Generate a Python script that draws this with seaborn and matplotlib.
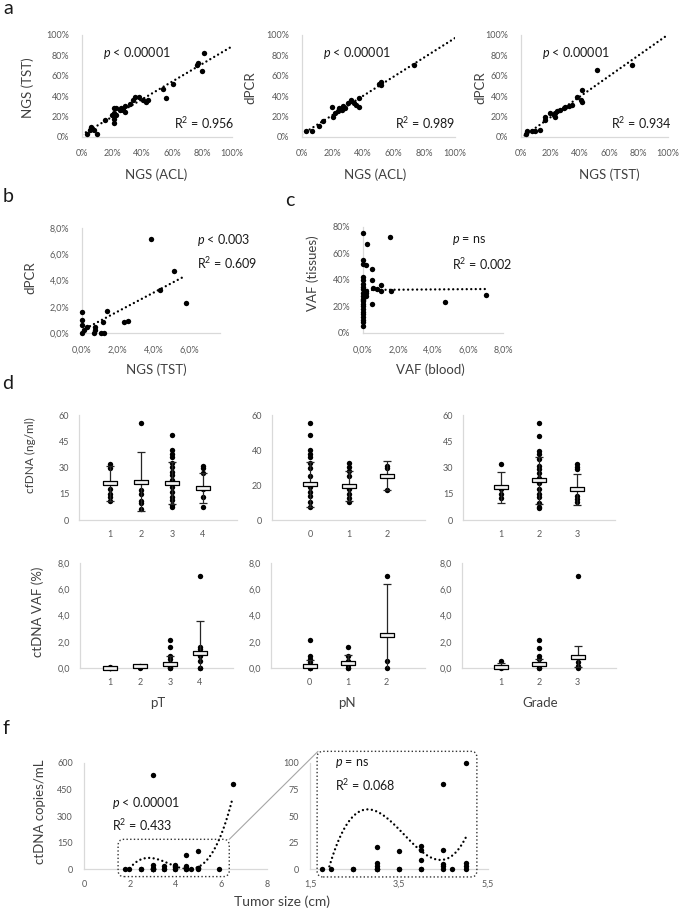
"""
Figure: NGS / dPCR concordance, ctDNA vs clinico-pathological features, tumour size
"""

import numpy as np
import pandas as pd
import matplotlib
matplotlib.use("Agg")
import matplotlib.pyplot as plt
import seaborn as sns
from matplotlib.patches import FancyBboxPatch, ConnectionPatch
from matplotlib.ticker import FuncFormatter

# ---------- data ----------
# a) tissue VAF (%), three method pairs
a1_acl = [81.4, 77.3, 76.8, 80.0, 60.7, 53.9, 55.7, 35.2, 38.0, 34.0, 40.9, 42.5, 44.3, 31.8, 28.9, 22.7,
          26.0, 21.1, 25.0, 27.3, 28.9, 21.6, 20.0, 22.7, 21.6, 15.2, 21.6, 6.1, 5.2, 8.0, 3.0, 10.2]
a1_tst = [82.0, 72.8, 70.5, 65.0, 51.5, 46.6, 38.4, 39.3, 39.3, 36.0, 36.0, 34.4, 36.0, 32.0, 30.0, 28.9,
          28.9, 28.5, 26.0, 26.0, 24.6, 23.6, 21.3, 21.3, 18.0, 16.4, 13.8, 9.8, 7.2, 6.6, 2.6, 2.6]
a2_acl = [72.9, 51.6, 50.5, 51.6, 37.5, 34.3, 32.0, 30.0, 26.7, 24.5, 19.5, 23.4, 21.3, 20.2, 26.0, 28.2,
          35.4, 37.0, 13.7, 10.8, 2.8, 6.5]
a2_dpcr = [70.9, 54.0, 51.8, 50.8, 38.5, 33.7, 36.0, 33.0, 30.4, 28.2, 29.1, 25.0, 23.3, 20.0, 26.5, 28.2,
           31.4, 29.8, 15.2, 11.0, 5.5, 5.5]
a3_tst = [51.8, 75.2, 41.6, 41.0, 41.6, 38.2, 34.8, 32.5, 30.2, 29.0, 26.8, 24.5, 23.4, 22.3, 23.0, 16.6,
          16.6, 13.2, 9.8, 7.5, 4.1, 3.4, 20.0]
a3_dpcr = [65.4, 70.2, 46.0, 36.0, 34.0, 38.8, 31.4, 30.4, 29.0, 28.0, 26.5, 25.0, 23.3, 21.7, 20.0, 20.0,
           16.2, 7.0, 6.0, 5.5, 5.5, 2.6, 23.3]

# b) plasma VAF (%)
b_tst = [3.87, 5.11, 4.37, 5.78, 0, 1.41, 2.57, 2.35, 1.15, 0, 0, 0.3, 0.7, 0.67, 1.05, 1.2, 0, 0.1, 0.7]
b_dpcr = [7.15, 4.73, 3.28, 2.26, 1.63, 1.70, 0.94, 0.87, 0.87, 1.0, 0.6, 0.45, 0.45, 0, 0, 0, 0, 0.2, 0.25]

# c) blood vs tissue VAF (%)
c_blood = [0, 0.2, 1.54, 0, 0, 0.15, 0.5, 0, 0, 0, 0.5, 0.55, 1.0, 0.8, 1.0, 1.6, 0.17, 0.17, 0.17,
           0, 0, 0, 0, 0, 0, 0, 0, 0, 0, 0, 0.5, 4.69, 7.0, 0, 0, 0, 0, 0]
c_tissue = [75.7, 67, 72.5, 55, 52, 51, 48, 42, 40, 37, 40, 34, 36, 33, 31.5, 32, 32, 30, 28,
            35, 33, 30, 28, 26, 24, 22, 18, 12, 8, 5, 21.6, 23.4, 28.4, 10, 14, 16, 20, 25]

# d) cfDNA (ng/ml) and ctDNA VAF (%) by pT, pN, grade
pT_cats = ["1", "2", "3", "4"]
pN_cats = ["0", "1", "2"]
gr_cats = ["1", "2", "3"]

cf_pT = [[32, 30, 17.5, 15, 13, 11],
         [55.5, 17, 15, 11, 10, 6.5],
         [48.5, 40, 38, 36, 32.5, 30.5, 27.5, 25.5, 23, 19, 16, 13, 11.5, 8.5, 7.5],
         [31, 29.5, 27, 18, 13, 7.5]]
cf_pT_mean = [20.9, 21.9, 21.0, 18.3]
cf_pT_sd = [10.0, 16.8, 12.0, 8.7]

cf_pN = [[55.5, 48.5, 40, 38, 36, 32.5, 29.5, 25, 19, 16, 13.5, 10.5, 7.5],
         [32.5, 30.5, 28, 25, 18, 15, 12.5, 10.5],
         [31, 29.5, 17]]
cf_pN_mean = [20.4, 19.5, 25.4]
cf_pN_sd = [13.0, 8.5, 8.3]

cf_gr = [[32, 18, 14.7, 12.3],
         [55.3, 48, 39.6, 37.7, 35, 31, 29, 27, 24, 21, 18, 15, 13, 10, 7.5, 6.6],
         [32, 30.5, 29.2, 14, 12, 10.4]]
cf_gr_mean = [18.7, 22.8, 17.6]
cf_gr_sd = [8.7, 13.4, 8.8]

ct_pT = [[0, 0, 0, 0.05],
         [0.18, 0, 0.1],
         [2.15, 1.6, 0.93, 0.7, 0.4, 0.1, 0, 0],
         [7.0, 1.6, 1.45, 0.9, 0.5, 0, 0]]
ct_pT_mean = [0.02, 0.12, 0.33, 1.14]
ct_pT_sd = [0.05, 0.1, 0.56, 2.45]

ct_pN = [[2.15, 0.88, 0.68, 0.43, 0, 0, 0],
         [1.6, 0.93, 0.5, 0.25, 0, 0],
         [7.0, 0.55, 0]]
ct_pN_mean = [0.18, 0.38, 2.5]
ct_pN_sd = [0.45, 0.62, 3.9]

ct_gr = [[0.55, 0],
         [2.15, 1.5, 0.93, 0.7, 0.25, 0, 0],
         [7.0, 0.43, 0.18, 0]]
ct_gr_mean = [0.1, 0.3, 0.86]
ct_gr_sd = [0.25, 0.4, 0.78]

# f) tumour size (cm) vs ctDNA copies/mL (zeros overlap at the same sizes)
f_size = [1.78, 1.97, 2.47, 2.47, 3.0, 3.0, 3.0, 3.0, 3.0, 3.0, 3.0, 3.49, 3.49, 3.49,
          3.99, 3.99, 3.99, 3.99, 3.99, 4.48, 4.48, 4.48, 4.48, 4.48, 4.68, 5.0, 5.0, 5.0, 5.0,
          5.9, 6.5]
f_copies = [0, 0, 0, 0, 0, 0, 0, 2.8, 5.3, 20.4, 530, 0, 0, 17,
            0, 0, 8.5, 18, 21.6, 0, 2.8, 4.4, 18, 80, 0, 0, 3, 6, 100,
            0, 480]

# ---------- style ----------
sns.set_theme(style="white")
plt.rcParams["font.family"] = ["Lato", "DejaVu Sans"]
plt.rcParams["mathtext.fontset"] = "custom"
plt.rcParams["mathtext.rm"] = "Lato"
plt.rcParams["mathtext.it"] = "Lato:italic"

W, H = 685, 913
SPINE = "#D9D9D9"
TICK = "#595959"
LABEL = "#404040"
INK = "#1A1A1A"
P_ = r"$\it{p}$"

fig = plt.figure(figsize=(W / 100, H / 100), dpi=100)


def box(l, r, t, b):
    # axes placed by pixel edges of the original figure
    return fig.add_axes([l / W, 1 - b / H, (r - l) / W, (b - t) / H])


def style(ax, pad=8):
    sns.despine(ax=ax)
    for s in ("left", "bottom"):
        ax.spines[s].set_color(SPINE)
        ax.spines[s].set_linewidth(0.9)
    ax.tick_params(axis="both", length=0, pad=pad, labelsize=6.5, labelcolor=TICK)
    ax.set_xlabel("")
    ax.set_ylabel("")
    ax.patch.set_alpha(0)


def label(x, y, s, rot=0, size=9.5):
    fig.text(x / W, 1 - y / H, s, ha="center", va="center", rotation=rot,
             fontsize=size, color=LABEL)


def letter(x, y, s):
    fig.text(x / W, 1 - y / H, s, ha="center", va="center", fontsize=14, color=INK)


def note(ax, x, y, s):
    ax.text(x, y, s, fontsize=9, color=INK, ha="left", va="center")


pct0 = FuncFormatter(lambda v, _: f"{v:.0f}%")
pct1 = FuncFormatter(lambda v, _: f"{v:.1f}%".replace(".", ","))
dec1 = FuncFormatter(lambda v, _: f"{v:.1f}".replace(".", ","))

SC = dict(s=15, linewidths=0, alpha=1, clip_on=False, zorder=3)
# Excel "round dot" trendline
LN = dict(ls=(0, (0.01, 1.9)), lw=1.7, dash_capstyle="round")


def reg(ax, x, y, truncate=True, order=1):
    sns.regplot(x=x, y=y, ax=ax, ci=None, color="black", truncate=truncate, order=order,
                scatter_kws=SC, line_kws=LN)


# ---------- a ----------
letter(8, 9, "a")
for (l, r), x, y, xl, yl, ylx, xlx, r2 in [
        ((82, 232), a1_acl, a1_tst, "NGS (ACL)", "NGS (TST)", 28, 156, "0.956"),
        ((302, 455), a2_acl, a2_dpcr, "NGS (ACL)", "dPCR", 250, 375, "0.989"),
        ((521, 668), a3_tst, a3_dpcr, "NGS (TST)", "dPCR", 480, 609, "0.934")]:
    ax = box(l, r, 35, 137)
    ax.set_xlim(0, 100)
    ax.set_ylim(0, 100)
    reg(ax, x, y, truncate=False)
    style(ax, pad=9)
    ax.set_xticks(range(0, 101, 20))
    ax.set_yticks(range(0, 101, 20))
    ax.xaxis.set_major_formatter(pct0)
    ax.yaxis.set_major_formatter(pct0)
    note(ax, 14, 82, P_ + " < 0.00001")
    note(ax, 61, 14, "R$^{2}$ = " + r2)
    label(xlx, 175, xl)
    label(ylx, 88, yl, rot=90)

# ---------- b ----------
letter(8, 197, "b")
ax = box(82, 220, 228, 333)
ax.set_xlim(0, 7.7)
ax.set_ylim(0, 8)
reg(ax, b_tst, b_dpcr)
style(ax, pad=9)
ax.set_xticks([0, 2, 4, 6])
ax.set_yticks([0, 2, 4, 6, 8])
ax.xaxis.set_major_formatter(pct1)
ax.yaxis.set_major_formatter(pct1)
note(ax, 6.4, 7.1, P_ + " < 0.003")
note(ax, 6.4, 5.3, "R$^{2}$ = 0.609")
label(156, 370, "NGS (TST)")
label(30, 278, "dPCR", rot=90)

# ---------- c ----------
letter(290, 200, "c")
ax = box(363, 503, 227, 333)
ax.set_xlim(0, 8)
ax.set_ylim(0, 80)
reg(ax, c_blood, c_tissue)
style(ax, pad=9)
ax.set_xticks([0, 2, 4, 6, 8])
ax.set_yticks([0, 20, 40, 60, 80])
ax.xaxis.set_major_formatter(pct1)
ax.yaxis.set_major_formatter(pct0)
note(ax, 5.1, 70, P_ + " = ns")
note(ax, 5.1, 52, "R$^{2}$ = 0.002")
label(430, 370, "VAF (blood)")
label(313, 273, "VAF (tissues)", rot=90)

# ---------- d ----------
letter(8, 383, "d")
MEAN_MARK = [(-1, -0.28), (1, -0.28), (1, 0.28), (-1, 0.28), (-1, -0.28)]


def dot_panel(ax, groups, cats, means, sds, xmax):
    pos = np.arange(1, len(groups) + 1)
    df = pd.DataFrame({"pos": np.repeat(pos, [len(g) for g in groups]),
                       "val": np.concatenate(groups)})
    sns.scatterplot(data=df, x="pos", y="val", ax=ax, color="black", legend=False, **SC)
    ax.errorbar(pos, means, yerr=sds, fmt="none", ecolor="#262626", elinewidth=0.9,
                capsize=3, capthick=0.9, zorder=4)
    ax.plot(pos, means, ls="none", marker=MEAN_MARK, ms=10.5, mfc="#F2F2F2", mec="black",
            mew=0.9, zorder=5, clip_on=False)
    ax.set_xlim(0, xmax)
    ax.set_xticks(pos)
    ax.set_xticklabels(cats)


top = [((79, 237), cf_pT, pT_cats, cf_pT_mean, cf_pT_sd, 5.1, [0, 15, 30, 45, 60]),
       ((272, 425), cf_pN, pN_cats, cf_pN_mean, cf_pN_sd, 4, [0, 20, 40, 60]),
       ((463, 615), cf_gr, gr_cats, cf_gr_mean, cf_gr_sd, 4, [0, 15, 30, 45, 60])]
for (l, r), g, cats, m, sd, xmax, yt in top:
    ax = box(l, r, 415, 520)
    dot_panel(ax, g, cats, m, sd, xmax)
    ax.set_ylim(0, 60)
    ax.set_yticks(yt)
    style(ax, pad=7)

bottom = [((80, 233), ct_pT, pT_cats, ct_pT_mean, ct_pT_sd, 5.1, "pT", 158),
          ((271, 425), ct_pN, pN_cats, ct_pN_mean, ct_pN_sd, 4, "pN", 347),
          ((462, 616), ct_gr, gr_cats, ct_gr_mean, ct_gr_sd, 4, "Grade", 540)]
for (l, r), g, cats, m, sd, xmax, xl, xlx in bottom:
    ax = box(l, r, 563, 668)
    dot_panel(ax, g, cats, m, sd, xmax)
    ax.set_ylim(0, 8)
    ax.set_yticks([0, 2, 4, 6, 8])
    ax.yaxis.set_major_formatter(dec1)
    style(ax, pad=7)
    label(xlx, 703, xl)

label(30, 455, "cfDNA (ng/ml)", rot=90, size=8.5)
label(38, 612, "ctDNA VAF (%)", rot=90)

# ---------- f ----------
letter(6, 728, "f")
ax_f = box(84, 267, 763, 869)
ax_f.set_xlim(0, 8)
ax_f.set_ylim(0, 600)
reg(ax_f, f_size, f_copies, order=3)
style(ax_f, pad=8)
ax_f.set_xticks([0, 2, 4, 6, 8])
ax_f.set_yticks(range(0, 601, 150))
note(ax_f, 1.22, 373, P_ + " < 0.00001")
note(ax_f, 1.22, 249, "R$^{2}$ = 0.433")

# zoomed inset: tumours up to 5.5 cm
in_size = [s for s in f_size if s <= 5.5]
in_copies = [c for s, c in zip(f_size, f_copies) if s <= 5.5]
ax_in = box(310, 488, 763, 869)
ax_in.set_xlim(1.5, 5.5)
ax_in.set_ylim(0, 100)
sns.regplot(x=in_size, y=in_copies, ax=ax_in, ci=None, order=3, color="black",
            scatter=False, line_kws=LN)
shown = [(s, c) for s, c in zip(in_size, in_copies) if c <= 100]
sns.scatterplot(x=[s for s, _ in shown], y=[c for _, c in shown], ax=ax_in,
                color="black", legend=False, **SC)
style(ax_in, pad=8)
ax_in.set_xticks([1.5, 3.5, 5.5])
ax_in.set_yticks(range(0, 101, 25))
ax_in.xaxis.set_major_formatter(dec1)
note(ax_in, 2.06, 100, P_ + " = ns")
note(ax_in, 2.06, 79, "R$^{2}$ = 0.068")

fig.canvas.draw()


def zoom_box(ax, x0, x1, y0, y1, rpx=6):
    bb = ax.get_window_extent()
    xs = bb.width / np.diff(ax.get_xlim())[0]
    ys = bb.height / np.diff(ax.get_ylim())[0]
    patch = FancyBboxPatch((x0, y0), x1 - x0, y1 - y0,
                           boxstyle=f"round,pad=0,rounding_size={rpx / xs}",
                           mutation_aspect=xs / ys, transform=ax.transData, clip_on=False,
                           fill=False, ls=":", lw=1.0, ec="#333333", zorder=6)
    ax.add_patch(patch)


zoom_box(ax_f, 1.49, 6.35, -43, 168)
zoom_box(ax_in, 1.66, 5.25, -7.5, 111)
fig.add_artist(ConnectionPatch(xyA=(6.35, 168), coordsA=ax_f.transData,
                               xyB=(1.68, 111), coordsB=ax_in.transData,
                               color="#A6A6A6", lw=0.8))

label(282, 902, "Tumor size (cm)", size=10)
label(40, 812, "ctDNA copies/mL", rot=90)

fig.savefig("out.png", dpi=100)
